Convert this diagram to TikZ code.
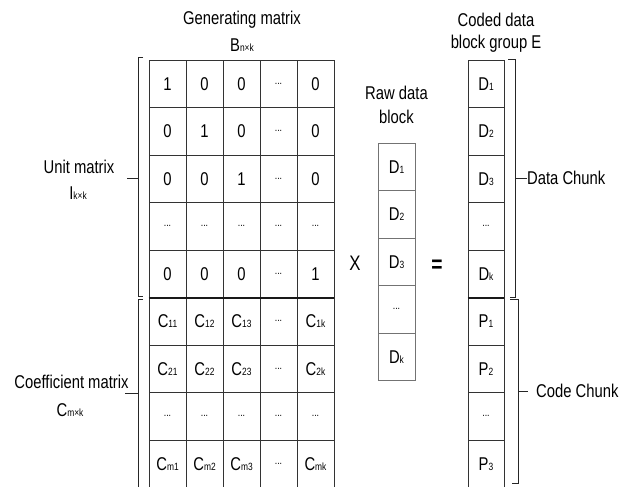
\documentclass[tikz,border=0pt]{standalone}
\usepackage{fontspec}
\setmainfont{Liberation Sans}[FakeStretch=0.8]
\newcommand\sbx[1]{{\fontsize{10.5}{10.5}\selectfont #1}}
\newcommand\dd{{\fontsize{11}{11}\selectfont ...}}
\begin{document}
\begin{tikzpicture}[x=1pt,y=-1pt,
  lbl/.style={inner sep=0pt,font=\fontsize{18.5}{20}\selectfont},
  cell/.style={draw=black!80,line width=0.8pt,minimum width=37pt,minimum height=47.5pt,inner sep=0pt,anchor=center,font=\fontsize{18.5}{20}\selectfont},
  rcell/.style={cell,draw=black!55},
  ecell/.style={cell,minimum width=36pt},
  brk/.style={draw=black!85,line width=1pt}]
\useasboundingbox (0,0) rectangle (630,487);
\clip (0,0) rectangle (630,487);
\fill[white] (0,0) rectangle (630,487);
\newcommand\cellrow[6]{%
  \pgfmathsetmacro\yy{60+47.5*(#1-0.5)}%
  \node[cell] (g#1a) at (167.5,\yy) {#2};
  \node[cell] (g#1b) at (204.5,\yy) {#3};
  \node[cell] (g#1c) at (241.5,\yy) {#4};
  \node[cell] (g#1d) at (278.5,\yy) {#5};
  \node[cell] (g#1e) at (315.5,\yy) {#6};}
\cellrow{1}{1}{0}{0}{\dd}{0}
\cellrow{2}{0}{1}{0}{\dd}{0}
\cellrow{3}{0}{0}{1}{\dd}{0}
\cellrow{4}{\dd}{\dd}{\dd}{\dd}{\dd}
\cellrow{5}{0}{0}{0}{\dd}{1}
\cellrow{6}{C\sbx{11}}{C\sbx{12}}{C\sbx{13}}{\dd}{C\sbx{1k}}
\cellrow{7}{C\sbx{21}}{C\sbx{22}}{C\sbx{23}}{\dd}{C\sbx{2k}}
\cellrow{8}{\dd}{\dd}{\dd}{\dd}{\dd}
\cellrow{9}{C\sbx{m1}}{C\sbx{m2}}{C\sbx{m3}}{\dd}{C\sbx{mk}}
\draw[line width=1.8pt,black!90] (g5a.south west) -- (g5e.south east);
% raw data block
\node[rcell] (r1) at (396.5,166.8) {D\sbx{1}};
\node[rcell] (r2) at (396.5,214.3) {D\sbx{2}};
\node[rcell] (r3) at (396.5,261.8) {D\sbx{3}};
\node[rcell] (r4) at (396.5,309.3) {\dd};
\node[rcell] (r5) at (396.5,356.8) {D\sbx{k}};
% coded column
\newcommand\ecellrow[2]{%
  \pgfmathsetmacro\yy{60+47.5*(#1-0.5)}%
  \node[ecell] (e#1) at (486,\yy) {#2};}
\ecellrow{1}{D\sbx{1}}
\ecellrow{2}{D\sbx{2}}
\ecellrow{3}{D\sbx{3}}
\ecellrow{4}{\dd}
\ecellrow{5}{D\sbx{k}}
\ecellrow{6}{P\sbx{1}}
\ecellrow{7}{P\sbx{2}}
\ecellrow{8}{\dd}
\ecellrow{9}{P\sbx{3}}
\draw[line width=1.8pt,black!90] (e5.south west) -- (e5.south east);
% labels
\node[lbl] (tg) at (242,20) {Generating matrix};
\node[lbl] (tb) at (242,45) {B\sbx{n×k}};
\node[lbl] (tr1) at (396.5,93) {Raw data};
\node[lbl] (tr2) at (396.5,117) {block};
\node[lbl] (tc1) at (496,20) {Coded data};
\node[lbl] (tc2) at (496,44) {block group E};
\node[lbl] (um) at (79,167) {Unit matrix};
\node[lbl] (ui) at (78,193) {I\sbx{k×k}};
\node[lbl] (cm) at (71.5,382) {Coefficient matrix};
\node[lbl] (cc) at (70,410) {C\sbx{m×k}};
\node[lbl,anchor=west] (dc) at (527,178) {Data Chunk};
\node[lbl,anchor=west] (kc) at (536,391) {Code Chunk};
\node[lbl,font=\fontsize{21}{22}\selectfont] (times) at (355,263) {X};
\node[lbl,font=\fontsize{24}{24}\selectfont\bfseries] (eq) at (437,266) {=};
% brackets
\draw[brk] (143,58) -- (138,58) -- (138,296) -- (143,296);
\draw[brk] (138,178) -- (127,178);
\draw[brk] (143,299) -- (138,299) -- (138,490);
\draw[brk] (138,393) -- (125,393);
\draw[brk] (508,60) -- (515,60) -- (515,297) -- (510,297);
\draw[brk] (515,178) -- (dc.west);
\draw[brk] (510,299) -- (518,299) -- (518,483) -- (512,483);
\draw[brk] (518,391) -- (528,391);
\end{tikzpicture}
\end{document}
